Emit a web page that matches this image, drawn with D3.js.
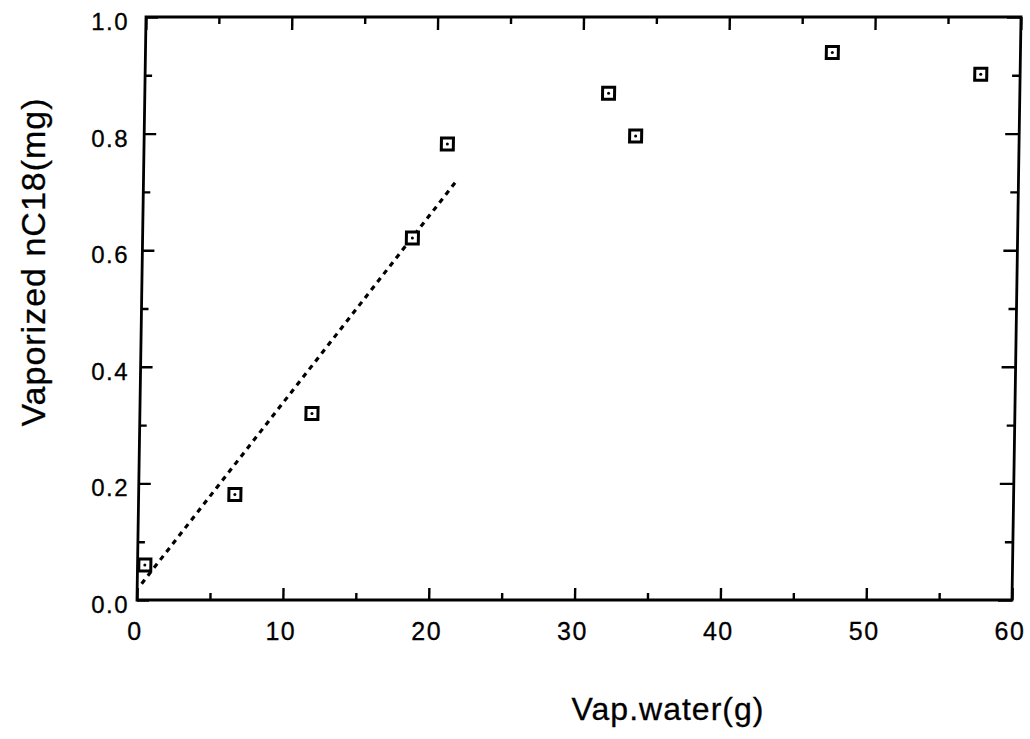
<!DOCTYPE html>
<html lang="en">
<head>
<meta charset="utf-8">
<title>Vaporized nC18 vs vaporized water</title>
<script src="https://cdn.jsdelivr.net/npm/d3@7"></script>
<style>
  body { margin: 0; background: #fff; }
  svg text { font-family: "Liberation Sans", Arial, sans-serif; fill: #000; stroke: #000; stroke-width: 0.3px; }
</style>
</head>
<body>
<script>
// data
var waterG   = [0.5, 6.6, 11.8, 18.5, 20.8, 31.8, 33.7, 47.1, 57.3];
var nc18Mg   = [0.060, 0.181, 0.320, 0.621, 0.782, 0.869, 0.796, 0.939, 0.902];
var fitX     = [0.3, 21.5];
var fitY     = [0.028, 0.720];
var xTicks   = [0, 10, 20, 30, 40, 50, 60];
var xMinor   = [5, 15, 25, 35, 45, 55];
var yTicks   = [0, 0.2, 0.4, 0.6, 0.8, 1.0];
var yMinor   = [0.1, 0.3, 0.5, 0.7, 0.9];

var w = 1030, h = 739;
var padL = 137, padR = 1012, padT = 17, padB = 600;

var svg = d3.select("body").append("svg")
    .attr("width", w)
    .attr("height", h);

var x = d3.scaleLinear().domain([0, 60]).range([padL, padR]);
var y = d3.scaleLinear().domain([0, 1]).range([padB, padT]);

// the scanned frame leans a little to the right going up
var plot = svg.append("g")
    .attr("transform", "translate(0," + padB + ") skewX(-0.885) translate(0," + (-padB) + ")");

function ticks(axis, pos, vals, len) {
  var g = plot.append("g")
      .attr("transform", pos)
      .call(axis.tickValues(vals).tickSize(-len).tickFormat(""));
  g.select(".domain").remove();
  g.selectAll(".tick line").attr("stroke", "#000").attr("stroke-width", 2.4);
}

ticks(d3.axisBottom(x), "translate(0," + padB + ")", xTicks, 12);
ticks(d3.axisBottom(x), "translate(0," + padB + ")", xMinor, 7);
ticks(d3.axisTop(x), "translate(0," + padT + ")", xTicks, 13);
ticks(d3.axisTop(x), "translate(0," + padT + ")", xMinor, 7);
ticks(d3.axisLeft(y), "translate(" + padL + ",0)", yTicks, 12);
ticks(d3.axisLeft(y), "translate(" + padL + ",0)", yMinor, 7);
ticks(d3.axisRight(y), "translate(" + padR + ",0)", yTicks, 14);
ticks(d3.axisRight(y), "translate(" + padR + ",0)", yMinor, 8);

plot.append("rect")
    .attr("x", padL)
    .attr("y", padT)
    .attr("width", padR - padL)
    .attr("height", padB - padT)
    .attr("fill", "none")
    .attr("stroke", "#000")
    .attr("stroke-width", 2.8);

// dotted fit line
var line = d3.line()
    .x(function(d, i) { return x(fitX[i]); })
    .y(function(d) { return y(d); });

plot.append("path")
    .datum(fitY)
    .attr("d", line)
    .attr("fill", "none")
    .attr("stroke", "#000")
    .attr("stroke-width", 3.2)
    .attr("stroke-dasharray", "5 5");

// square markers with a dot inside
var pts = plot.selectAll(".pt")
    .data(waterG)
  .enter()
    .append("g")
    .attr("class", "pt")
    .attr("transform", function(d, i) { return "translate(" + x(d) + "," + y(nc18Mg[i]) + ")"; });

pts.append("rect")
    .attr("x", -6).attr("y", -6)
    .attr("width", 12).attr("height", 12)
    .attr("fill", "#fff")
    .attr("stroke", "#000")
    .attr("stroke-width", 3);

pts.append("circle")
    .attr("r", 1.5)
    .attr("fill", "#000");

// tick labels
svg.selectAll(".xl")
    .data(xTicks)
  .enter()
    .append("text")
    .attr("x", function(d) { return x(d) - 2; })
    .attr("y", padB + 40)
    .attr("text-anchor", "middle")
    .style("font-size", "25px")
    .style("letter-spacing", "1.5px")
    .text(function(d) { return d; });

svg.selectAll(".yl")
    .data(yTicks)
  .enter()
    .append("text")
    .attr("x", 129)
    .attr("y", function(d) { return y(d) + 13; })
    .attr("text-anchor", "end")
    .style("font-size", "24px")
    .style("letter-spacing", "1.5px")
    .text(function(d) { return d3.format(".1f")(d); });

// axis titles
svg.append("text")
    .attr("x", 668)
    .attr("y", 720)
    .attr("text-anchor", "middle")
    .style("font-size", "32px")
    .style("letter-spacing", "1px")
    .text("Vap.water(g)");

svg.append("text")
    .attr("transform", "translate(45,262) rotate(-90)")
    .attr("text-anchor", "middle")
    .style("font-size", "34px")
    .style("letter-spacing", "1px")
    .text("Vaporized nC18(mg)");
</script>
</body>
</html>
